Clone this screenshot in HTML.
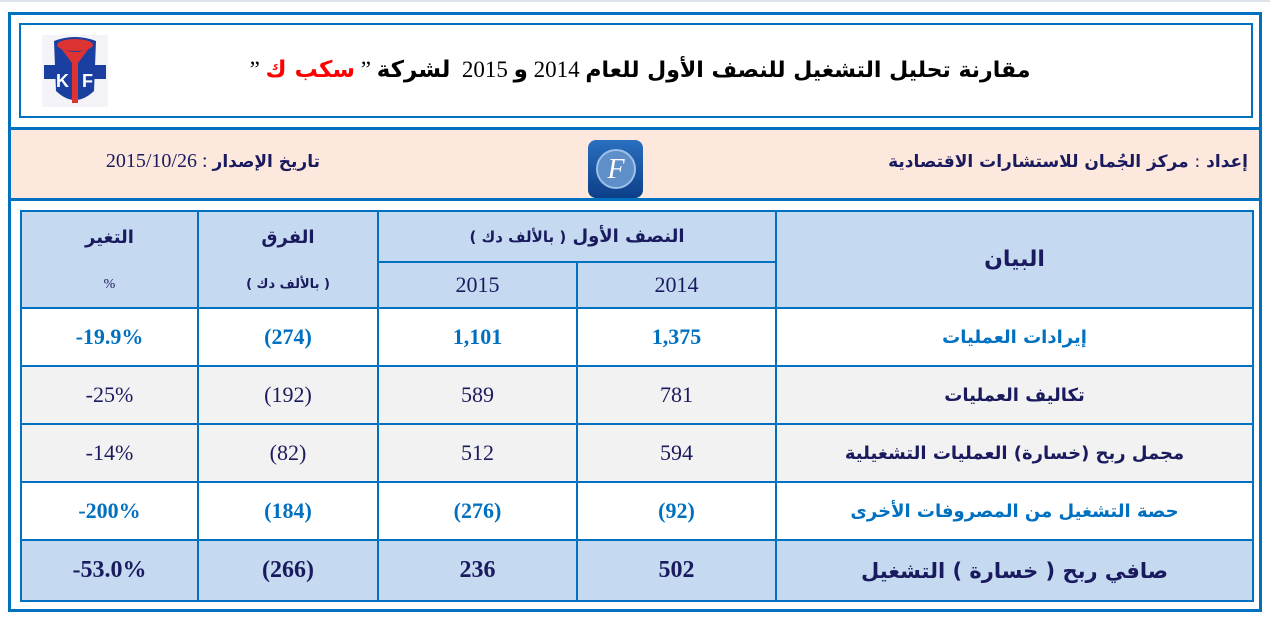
<!DOCTYPE html>
<html><head><meta charset="utf-8"><style>
body{margin:0;width:1270px;height:620px;background:#fff;position:relative;overflow:hidden;font-family:"Liberation Serif","Noto Sans CJK SC",serif;}
.a{position:absolute;box-sizing:border-box}
.ar{font-family:"DejaVu Sans","Noto Sans CJK SC",sans-serif;font-weight:bold}
table{position:absolute;left:20px;top:210px;width:1232px;border-collapse:collapse;table-layout:fixed}
td{border:2.5px solid #0070c0;text-align:center;color:#1a1a5e;font-size:22px;padding:0}
.h{background:#c5d9f1}
.g{background:#f2f2f2}
.b{color:#0070c0;font-weight:bold}
.lab{font-family:"DejaVu Sans","Noto Sans CJK SC",sans-serif;font-weight:bold;font-size:18px}
</style></head><body>
<div class="a" style="left:0;top:0;width:1270px;height:2px;background:#dde3ec"></div>
<div class="a" style="left:8px;top:12px;width:1254px;height:600px;border:3px solid #0070c0"></div>
<div class="a" style="left:19px;top:23px;width:1234px;height:95px;border:2.5px solid #0070c0"></div>
<div class="a" style="left:11px;top:127px;width:1248px;height:3px;background:#0070c0"></div>
<div class="a" style="left:11px;top:130px;width:1248px;height:68px;background:#fce8dc"></div>
<div class="a" style="left:11px;top:198px;width:1248px;height:3px;background:#0070c0"></div>
<!-- KF logo -->
<svg class="a" style="left:42px;top:35px" width="66" height="72" viewBox="0 0 66 72">
<rect x="0" y="0" width="66" height="72" fill="#f4f4f8"/>
<rect x="2" y="30" width="62" height="14" fill="#1b3fa0"/>
<path d="M12 6 Q33 -2 54 6 L52 56 Q33 74 14 56 Z" fill="#1b3fa0"/>
<ellipse cx="33" cy="10" rx="18" ry="6" fill="#d33"/>
<path d="M18 12 Q33 22 48 12 L36 28 L36 68 L30 68 L30 28 Z" fill="#d33"/>
<text x="14" y="52" font-size="18" fill="#fff" font-family="Liberation Sans" font-weight="bold">K</text>
<text x="40" y="52" font-size="18" fill="#fff" font-family="Liberation Sans" font-weight="bold">F</text>
</svg>
<div class="a" style="left:140px;top:57px;width:1000px;text-align:center;direction:rtl;font-size:23px;color:#000">
<span class="ar" style="font-size:22px">مقارنة تحليل التشغيل للنصف الأول للعام</span> 2014 <span class="ar">و</span> 2015 &nbsp;<span class="ar">لشركة</span> ” <span class="ar" style="color:#f00">سكب ك</span> ”</div>
<!-- center logo -->
<div class="a" style="left:588px;top:140px;width:55px;height:58px;border-radius:8px;background:linear-gradient(#2a6fc0,#0d3f88)"></div>
<div class="a" style="left:596px;top:149px;width:40px;height:40px;border-radius:50%;background:#5f8fc8;border:2px solid #9cc0ea;color:#fff;font-size:28px;text-align:center;line-height:38px;font-style:italic">F</div>
<div class="a ar" style="left:700px;top:152px;width:548px;text-align:right;direction:rtl;font-size:17px;color:#1a1a5e">إعداد <span style="font-weight:normal">:</span> مركز الجُمان للاستشارات الاقتصادية</div>
<div class="a" style="left:60px;top:150px;width:260px;text-align:right;direction:rtl;font-size:20px;color:#1a1a5e"><span class="ar" style="font-size:17px">تاريخ الإصدار</span> : 2015/10/26</div>
<table>
<colgroup><col style="width:177px"><col style="width:180px"><col style="width:199px"><col style="width:199px"><col style="width:477px"></colgroup>
<tr style="height:51px" class="h"><td class="lab" style="border-bottom:none">التغير</td><td class="lab" style="border-bottom:none">الفرق</td><td colspan="2" class="lab" style="direction:rtl">النصف الأول <span style="font-size:15px">( بالألف دك )</span></td><td rowspan="2" class="lab" style="font-size:22px">البيان</td></tr>
<tr style="height:46px" class="h"><td style="border-top:none;font-size:14px">%</td><td class="lab" style="border-top:none;font-size:13px;direction:rtl">( بالألف دك )</td><td>2015</td><td>2014</td></tr>
<tr style="height:58px"><td class="b">-19.9%</td><td class="b">(274)</td><td class="b">1,101</td><td class="b">1,375</td><td class="lab" style="color:#0070c0">إيرادات العمليات</td></tr>
<tr style="height:58px" class="g"><td>-25%</td><td>(192)</td><td>589</td><td>781</td><td class="lab">تكاليف العمليات</td></tr>
<tr style="height:58px" class="g"><td>-14%</td><td>(82)</td><td>512</td><td>594</td><td class="lab">مجمل ربح (خسارة) العمليات التشغيلية</td></tr>
<tr style="height:58px"><td class="b">-200%</td><td class="b">(184)</td><td class="b">(276)</td><td class="b">(92)</td><td class="lab" style="color:#0070c0">حصة التشغيل من المصروفات الأخرى</td></tr>
<tr style="height:61px" class="h"><td style="font-weight:bold;font-size:24px">-53.0%</td><td style="font-weight:bold;font-size:24px">(266)</td><td style="font-weight:bold;font-size:24px">236</td><td style="font-weight:bold;font-size:24px">502</td><td class="lab" style="font-size:21px;direction:rtl">صافي ربح ( خسارة ) التشغيل</td></tr>
</table>
</body></html>
